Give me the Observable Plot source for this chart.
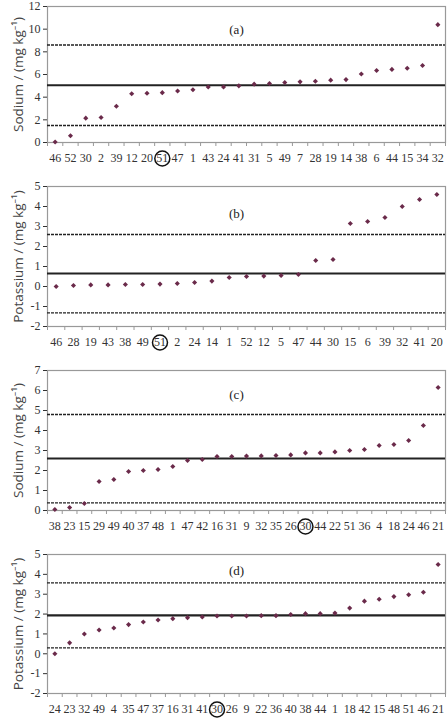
<!DOCTYPE html>
<html><head><meta charset="utf-8">
<script src="https://cdn.jsdelivr.net/npm/d3@7"></script>
<script src="https://cdn.jsdelivr.net/npm/@observablehq/plot@0.6"></script>
<style>
body{margin:0;background:#fff;width:448px;height:726px;position:relative;overflow:hidden}
.p{position:absolute;left:0}
</style>
</head><body>
<script>
// Panel (a) Sodium
const labelsA = ["46","52","30","2","39","12","20","51","47","1","43","24","41","31","5","49","7","28","19","14","38","6","44","15","34","32"];
const valuesA = [0.05,0.6,2.15,2.2,3.2,4.3,4.35,4.4,4.55,4.65,4.9,4.9,5.0,5.15,5.2,5.3,5.35,5.4,5.5,5.55,6.05,6.35,6.45,6.55,6.8,10.4];
const meanA = [5.05];
const limitsA = [1.5, 8.6];
const ticksA = [0,2,4,6,8,10,12];
// Panel (b) Potassium
const labelsB = ["46","28","19","43","38","49","51","2","24","14","1","52","12","5","47","44","30","15","6","39","32","41","20"];
const valuesB = [0.0,0.05,0.08,0.08,0.1,0.1,0.12,0.15,0.2,0.27,0.45,0.5,0.52,0.55,0.6,1.3,1.35,3.15,3.25,3.45,4.0,4.35,4.6];
const meanB = [0.65];
const limitsB = [-1.32, 2.6];
const ticksB = [-2,-1,0,1,2,3,4,5];
// Panel (c) Sodium
const labelsC = ["38","23","15","29","49","40","37","48","1","47","42","16","31","9","32","35","26","30","44","22","51","36","4","18","24","46","21"];
const valuesC = [0.05,0.15,0.35,1.45,1.55,1.95,2.0,2.05,2.2,2.5,2.55,2.7,2.7,2.72,2.73,2.75,2.78,2.88,2.88,2.93,3.0,3.05,3.25,3.3,3.5,4.25,6.15];
const meanC = [2.6];
const limitsC = [0.38, 4.8];
const ticksC = [0,1,2,3,4,5,6,7];
// Panel (d) Potassium
const labelsD = ["24","23","32","49","4","35","47","37","16","31","41","30","26","9","22","36","40","38","44","1","18","42","15","48","51","46","21"];
const valuesD = [0.0,0.55,1.0,1.2,1.3,1.47,1.6,1.7,1.77,1.82,1.85,1.9,1.9,1.9,1.92,1.92,1.98,2.02,2.02,2.05,2.3,2.65,2.75,2.88,2.97,3.1,4.5];
const meanD = [1.93];
const limitsD = [0.3, 3.57];
const ticksD = [-2,-1,0,1,2,3,4,5];

const panels = [
  {tag:"(a)", labels:labelsA, values:valuesA, mean:meanA, limits:limitsA, ticks:ticksA, circled:"51", ylabel:"Sodium / (mg kg⁻¹)", top:0, mt:6, h:136, tagDy:18},
  {tag:"(b)", labels:labelsB, values:valuesB, mean:meanB, limits:limitsB, ticks:ticksB, circled:"51", ylabel:"Potassium / (mg kg⁻¹)", top:176, mt:10, h:140, tagDy:22},
  {tag:"(c)", labels:labelsC, values:valuesC, mean:meanC, limits:limitsC, ticks:ticksC, circled:"30", ylabel:"Sodium / (mg kg⁻¹)", top:360, mt:10, h:140, tagDy:19},
  {tag:"(d)", labels:labelsD, values:valuesD, mean:meanD, limits:limitsD, ticks:ticksD, circled:"30", ylabel:"Potassium / (mg kg⁻¹)", top:544, mt:10, h:139, tagDy:11}
];

const serif = "Liberation Serif, Times New Roman, serif";
const sans = "Open Sans, Noto Sans, sans-serif";

for (const p of panels) {
  const n = p.labels.length;
  const idx = d3.range(n);
  const pts = idx.map(i => ({i, v: p.values[i]}));
  const mb = 32;
  const chart = Plot.plot({
    width: 448,
    height: p.mt + p.h + mb,
    marginTop: p.mt,
    marginBottom: mb,
    marginLeft: 47,
    marginRight: 3,
    style: {fontFamily: serif, fontSize: "12px", color: "#333", background: "#fff"},
    x: {type: "linear", domain: [-0.5, n - 0.5]},
    y: {domain: [p.ticks[0], p.ticks[p.ticks.length - 1]]},
    marks: [
      Plot.frame({stroke: "#999", strokeWidth: 1.2}),
      Plot.axisY(p.ticks, {tickSize: 4, tickPadding: 3, fontSize: 12, tickFormat: d => String(d), label: null}),
      Plot.axisY({ticks: [], tickSize: 0, label: p.ylabel, labelAnchor: "center", labelArrow: "none", labelOffset: 34, fontFamily: sans, fontSize: 13.5, fill: "#444"}),
      Plot.axisX(idx, {tickSize: 0, tickPadding: 11, tickFormat: i => p.labels[i], fontSize: 12, label: null}),
      Plot.axisX(d3.range(n + 1).map(i => i - 0.5), {tickSize: 4, tickFormat: () => "", label: null, stroke: "#999"}),
      Plot.ruleY(p.limits, {stroke: "#222", strokeWidth: 1.4, strokeDasharray: "3,1"}),
      Plot.ruleY(p.mean, {stroke: "#222", strokeWidth: 2.2}),
      Plot.dot(pts, {x: "i", y: "v", symbol: "diamond2", r: 2.3, fill: "#6a2a4a", stroke: "none"}),
      Plot.dot([p.labels.indexOf(p.circled)], {x: d => d, frameAnchor: "bottom", dy: 16, r: 7.5, stroke: "#111", strokeWidth: 1.5, fill: "none"}),
      Plot.text([p.tag], {frameAnchor: "top", dy: p.tagDy, dx: -10, fontSize: 13, fill: "#222"})
    ]
  });
  const div = document.createElement("div");
  div.className = "p";
  div.style.top = p.top + "px";
  div.appendChild(chart);
  document.body.appendChild(div);
}
</script>
</body></html>
